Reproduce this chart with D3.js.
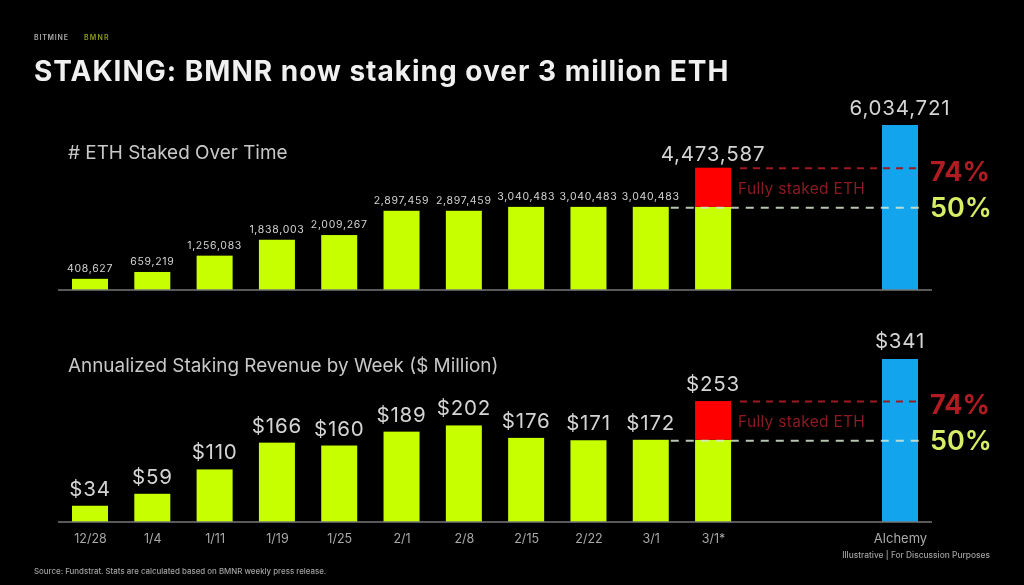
<!DOCTYPE html>
<html><head><meta charset="utf-8">
<script src="https://cdn.jsdelivr.net/npm/d3@7"></script>
<style>html,body{margin:0;padding:0;background:#000}svg{display:block;filter:blur(.6px)}text{font-family:Inter,"Liberation Sans",sans-serif}</style>
</head><body><svg id="c" width="1024" height="585"></svg>
<script>
const weeks=["12/28","1/4","1/11","1/19","1/25","2/1","2/8","2/15","2/22","3/1","3/1*"];
const slots=[...weeks,"gap-a","gap-b","Alchemy"];
const ethStaked=[408627,659219,1256083,1838003,2009267,2897459,2897459,3040483,3040483,3040483,3040483];
const ethLabels=[408627,659219,1256083,1838003,2009267,2897459,2897459,3040483,3040483,3040483,4473587];
const ethFull=4473587, ethAlchemy=6034721;
const revenue=[34,59,110,166,160,189,202,176,171,172,172];
const revLabels=[34,59,110,166,160,189,202,176,171,172,253];
const revFull=253, revAlchemy=341;
const W=1024,H=585,GREEN="#c8ff00",RED="#ff0000",BLUE="#12a5ee";
const svg=d3.select("#c");
svg.append("rect").attr("width",W).attr("height",H).attr("fill","#000");
const x=d3.scalePoint().domain(slots).range([90,900]);
const bw=36;
const txt=(t,px,py,size,fill,weight,anchor,ls)=>svg.append("text").text(t).attr("x",px).attr("y",py)
  .attr("font-size",size).attr("fill",fill).attr("font-weight",weight||400).attr("text-anchor",anchor||"start")
  .attr("letter-spacing",ls||0);

txt("BITMINE",34,39.5,7,"#a8a8a8",600,"start",.8);
txt("BMNR",84,39.5,7,"#8f9a20",600,"start",1.2);
txt("STAKING: BMNR now staking over 3 million ETH",34,81,28,"#f0f0f0",700,"start",1);
txt("Source: Fundstrat. Stats are calculated based on BMNR weekly press release.",34,574,7.9,"#a0a0a0",500);
txt("Illustrative  |  For Discussion Purposes",990,558,8.4,"#a0a0a0",500,"end");

function panel(o){
  const y=d3.scaleLinear().domain([0,o.alchemy]).range([o.base,o.top]);
  const g=svg.append("g");
  g.selectAll(".bar").data(o.values).join("rect")
    .attr("x",(d,i)=>x(weeks[i])-bw/2).attr("width",bw)
    .attr("y",d=>y(d)).attr("height",d=>y(0)-y(d)).attr("fill",GREEN);
  g.append("rect").attr("x",x("3/1*")-bw/2).attr("width",bw)
    .attr("y",y(o.full)).attr("height",y(o.values[10])-y(o.full)).attr("fill",RED);
  g.append("rect").attr("x",x("Alchemy")-bw/2).attr("width",bw)
    .attr("y",y(o.alchemy)).attr("height",y(0)-y(o.alchemy)).attr("fill",BLUE);
  const axis=d3.axisBottom(x).tickSize(0).tickPadding(12).tickValues(o.ticks);
  const ax=g.append("g").attr("transform",`translate(0,${o.base})`).call(axis);
  ax.select(".domain").remove();
  ax.selectAll("text").attr("font-size",d=>d==="Alchemy"?13:12.5).attr("fill","#a9a9a9").attr("font-family","Inter,'Liberation Sans',sans-serif");
  g.append("line").attr("x1",58).attr("x2",932).attr("y1",o.base).attr("y2",o.base).attr("stroke","#777").attr("stroke-width",1.6);
  g.append("line").attr("x1",x("3/1")+bw/2+2).attr("x2",924).attr("y1",y(o.values[10])+1).attr("y2",y(o.values[10])+1)
    .attr("stroke","#d8e8d0").attr("stroke-width",2).attr("stroke-dasharray","8 7").attr("opacity",.85);
  g.append("line").attr("x1",740).attr("x2",917).attr("y1",y(o.full)+.5).attr("y2",y(o.full)+.5)
    .attr("stroke","#a01820").attr("stroke-width",2).attr("stroke-dasharray","7 6");
  g.selectAll(".lab").data(o.labels).join("text")
    .attr("x",(d,i)=>x(weeks[i])).attr("y",d=>y(d)-o.gap)
    .attr("text-anchor","middle").attr("fill","#d4d4d4").attr("font-size",(d,i)=>i===10?o.bigSize:o.size)
    .attr("letter-spacing",(d,i)=>i===10?.8:o.ls)
    .text(o.fmt);
  txt(o.fmt(o.alchemy),x("Alchemy"),y(o.alchemy)-o.bigGap,o.bigSize,"#d4d4d4",400,"middle",.8);
  txt("Fully staked ETH",738,y(o.full)+26,15.5,"#8c1a20",400,"start",.3);
  txt("74%",930,y(o.full)+13,27,"#b01c22",700);
  txt("50%",930,y(o.values[10])+10,27,"#d6ee66",600);
  txt(o.title,68,o.titleY,o.titleSize,"#c8c8c8",400);
}
const comma=d3.format(",");
panel({values:ethStaked,labels:ethLabels,full:ethFull,alchemy:ethAlchemy,base:290,top:125,fmt:d=>comma(d),size:10.5,ls:.7,bigSize:20.5,gap:7,bigGap:10,ticks:[],title:"# ETH Staked Over Time",titleY:159,titleSize:18.9});
panel({values:revenue,labels:revLabels,full:revFull,alchemy:revAlchemy,base:522,top:359,fmt:d=>"$"+d,size:20.5,ls:.8,bigSize:20.5,gap:10,bigGap:11,ticks:slots.filter(s=>!s.startsWith("gap")),title:"Annualized Staking Revenue by Week ($ Million)",titleY:372,titleSize:18.9});
</script></body></html>
